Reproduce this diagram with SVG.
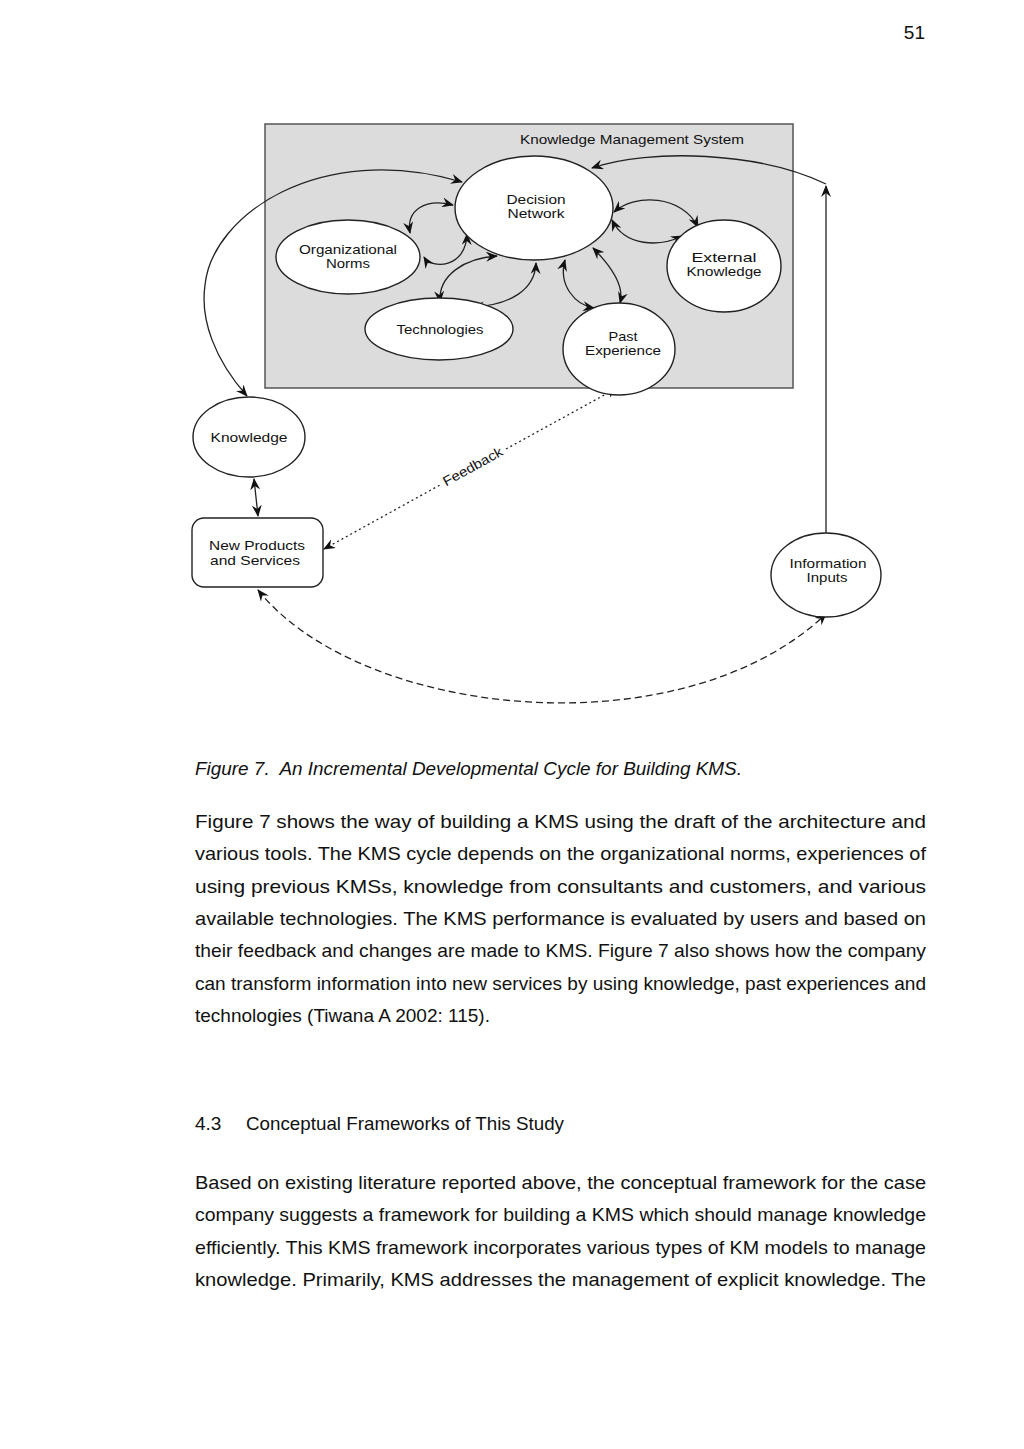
<svg xmlns="http://www.w3.org/2000/svg" width="1024" height="1449" viewBox="0 0 1024 1449">
<style>
.node{fill:#fff;stroke:#222;stroke-width:1.4}
.lbl{font-family:"Liberation Sans",Arial,sans-serif;font-size:13.5px;fill:#111;text-anchor:middle}
.con{fill:none;stroke:#222;stroke-width:1.3}
.body{font-family:"Liberation Sans",Arial,sans-serif;font-size:19px;fill:#111}
</style>
<defs>
<marker id="ah" viewBox="0 0 12 10" refX="11" refY="5" markerWidth="12" markerHeight="10" markerUnits="userSpaceOnUse" orient="auto-start-reverse">
<path d="M0,0 L12,5 L0,10 L4,5 z" fill="#111"/>
</marker>
</defs>
<rect width="1024" height="1449" fill="#fff"/>
<text class="body" x="925" y="39" text-anchor="end" font-size="17">51</text>

<g id="kms">
<rect x="265" y="124" width="528" height="264" fill="#dcdcdc" stroke="#555" stroke-width="1.5"/>
<text class="lbl" x="632" y="144" textLength="224" lengthAdjust="spacingAndGlyphs">Knowledge Management System</text>
</g>

<g id="connectors">
<path class="con" d="M 247 396 C 215 360, 200 320, 205 285 C 212 215, 320 140, 462 182" marker-start="url(#ah)" marker-end="url(#ah)"/>
<path class="con" d="M 826 533 L 826 186" marker-end="url(#ah)"/>
<path class="con" d="M 826 184 C 760 152, 650 148, 592 168" marker-end="url(#ah)"/>
<path class="con" d="M 453 205 C 425 198, 406 210, 410 233" marker-start="url(#ah)" marker-end="url(#ah)"/>
<path class="con" d="M 424 257 C 432 270, 466 268, 467 234" marker-start="url(#ah)" marker-end="url(#ah)"/>
<path class="con" d="M 440 302 C 438 275, 465 258, 497 256" marker-start="url(#ah)" marker-end="url(#ah)"/>
<path class="con" d="M 473 307 C 510 305, 535 290, 536 263" marker-start="url(#ah)" marker-end="url(#ah)"/>
<path class="con" d="M 565 260 C 558 285, 575 305, 594 308" marker-start="url(#ah)" marker-end="url(#ah)"/>
<path class="con" d="M 593 248 C 610 265, 625 285, 620 303" marker-start="url(#ah)" marker-end="url(#ah)"/>
<path class="con" d="M 614 212 C 635 193, 682 195, 698 227" marker-start="url(#ah)" marker-end="url(#ah)"/>
<path class="con" d="M 612 220 C 625 247, 660 247, 682 236" marker-start="url(#ah)" marker-end="url(#ah)"/>
<path class="con" d="M 254 479 L 258 516" marker-start="url(#ah)" marker-end="url(#ah)"/>
<path class="con" d="M 324 549 L 440 485" stroke-dasharray="2 3" marker-start="url(#ah)"/>
<path class="con" d="M 506 449 L 617 388" stroke-dasharray="2 3" marker-end="url(#ah)"/>
<text class="lbl" x="473" y="471" transform="rotate(-28.8 473 467)" textLength="66" lengthAdjust="spacingAndGlyphs">Feedback</text>
<path class="con" d="M 258 590 C 360 718, 680 752, 826 614" stroke-dasharray="7 4" marker-start="url(#ah)" marker-end="url(#ah)"/>
</g>

<g id="decision-network">
<ellipse class="node" cx="534" cy="208" rx="79" ry="52"/>
<text class="lbl" x="536" y="204" textLength="59" lengthAdjust="spacingAndGlyphs">Decision</text>
<text class="lbl" x="536" y="218" textLength="57" lengthAdjust="spacingAndGlyphs">Network</text>
</g>
<g id="organizational-norms">
<ellipse class="node" cx="348" cy="257" rx="72" ry="37"/>
<text class="lbl" x="348" y="254" textLength="98" lengthAdjust="spacingAndGlyphs">Organizational</text>
<text class="lbl" x="348" y="268" textLength="44" lengthAdjust="spacingAndGlyphs">Norms</text>
</g>
<g id="technologies">
<ellipse class="node" cx="439" cy="329" rx="74" ry="31"/>
<text class="lbl" x="440" y="334" textLength="87" lengthAdjust="spacingAndGlyphs">Technologies</text>
</g>
<g id="past-experience">
<ellipse class="node" cx="619" cy="349" rx="56" ry="46"/>
<text class="lbl" x="623" y="341" textLength="29" lengthAdjust="spacingAndGlyphs">Past</text>
<text class="lbl" x="623" y="355" textLength="76" lengthAdjust="spacingAndGlyphs">Experience</text>
</g>
<g id="external-knowledge">
<ellipse class="node" cx="724" cy="266" rx="57" ry="46"/>
<text class="lbl" x="724" y="262" textLength="65" lengthAdjust="spacingAndGlyphs">External</text>
<text class="lbl" x="724" y="276" textLength="75" lengthAdjust="spacingAndGlyphs">Knowledge</text>
</g>
<g id="knowledge">
<ellipse class="node" cx="249" cy="437" rx="56" ry="40"/>
<text class="lbl" x="249" y="442" textLength="77" lengthAdjust="spacingAndGlyphs">Knowledge</text>
</g>
<g id="new-products">
<rect class="node" x="192" y="518" width="131" height="69" rx="12"/>
<text class="lbl" x="257" y="550" textLength="96" lengthAdjust="spacingAndGlyphs">New Products</text>
<text class="lbl" x="255" y="565" textLength="90" lengthAdjust="spacingAndGlyphs">and Services</text>
</g>
<g id="information-inputs">
<ellipse class="node" cx="826" cy="575" rx="55" ry="42"/>
<text class="lbl" x="828" y="568" textLength="77" lengthAdjust="spacingAndGlyphs">Information</text>
<text class="lbl" x="827" y="582" textLength="41" lengthAdjust="spacingAndGlyphs">Inputs</text>
</g>

<g id="text">
<text class="body" x="195" y="775" font-size="18" font-style="italic" textLength="547" lengthAdjust="spacingAndGlyphs">Figure 7.&#160; An Incremental Developmental Cycle for Building KMS.</text>
<text class="body" x="195" y="828" textLength="731" lengthAdjust="spacingAndGlyphs">Figure 7 shows the way of building a KMS using the draft of the architecture and</text>
<text class="body" x="195" y="860" textLength="731" lengthAdjust="spacingAndGlyphs">various tools. The KMS cycle depends on the organizational norms, experiences of</text>
<text class="body" x="195" y="893" textLength="731" lengthAdjust="spacingAndGlyphs">using previous KMSs, knowledge from consultants and customers, and various</text>
<text class="body" x="195" y="925" textLength="731" lengthAdjust="spacingAndGlyphs">available technologies. The KMS performance is evaluated by users and based on</text>
<text class="body" x="195" y="957" textLength="731" lengthAdjust="spacingAndGlyphs">their feedback and changes are made to KMS. Figure 7 also shows how the company</text>
<text class="body" x="195" y="990" textLength="731" lengthAdjust="spacingAndGlyphs">can transform information into new services by using knowledge, past experiences and</text>
<text class="body" x="195" y="1022" textLength="295" lengthAdjust="spacingAndGlyphs">technologies (Tiwana A 2002: 115).</text>
<text class="body" x="195" y="1130">4.3</text>
<text class="body" x="246" y="1130" textLength="318" lengthAdjust="spacingAndGlyphs">Conceptual Frameworks of This Study</text>
<text class="body" x="195" y="1189" textLength="731" lengthAdjust="spacingAndGlyphs">Based on existing literature reported above, the conceptual framework for the case</text>
<text class="body" x="195" y="1221" textLength="731" lengthAdjust="spacingAndGlyphs">company suggests a framework for building a KMS which should manage knowledge</text>
<text class="body" x="195" y="1254" textLength="731" lengthAdjust="spacingAndGlyphs">efficiently. This KMS framework incorporates various types of KM models to manage</text>
<text class="body" x="195" y="1286" textLength="731" lengthAdjust="spacingAndGlyphs">knowledge. Primarily, KMS addresses the management of explicit knowledge. The</text>
</g>
</svg>
